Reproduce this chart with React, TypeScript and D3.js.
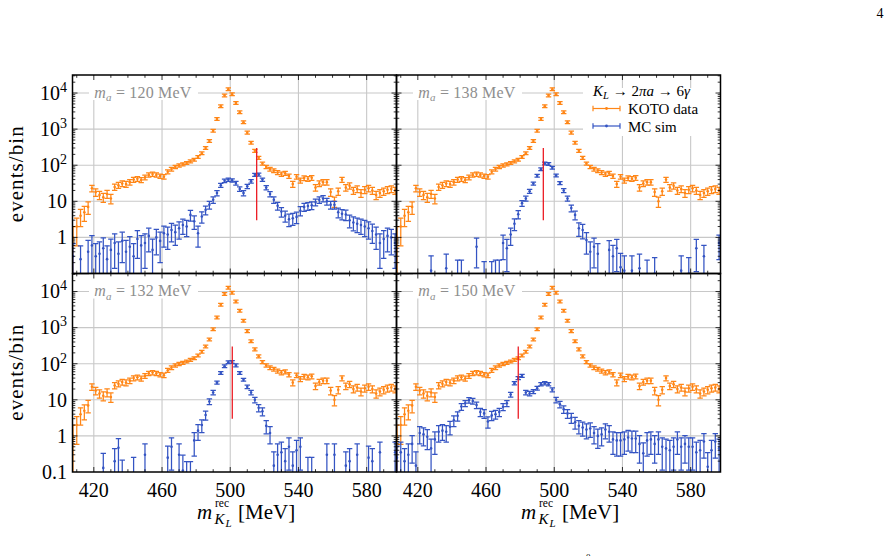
import * as d3 from "d3";

const FONT = "'Liberation Serif', 'DejaVu Serif', 'Times New Roman', serif";

const ORANGE = "#ff8617";
const BLUE = "#3454c3";
const RED = "#ec1c24";
const GRID = "#c8c8c8";
const NOTE = "#8e8e8e";

// 90 bins of 200/90 MeV on 400–600 MeV; bins 3..88 sit inside the plotted window
const BIN_W = 200 / 90;
const FIRST_BIN = 3;
const binCenter = (j: number) => 400 + (FIRST_BIN + j + 0.5) * BIN_W;

// KOTO data, events per bin (same sample in every panel)
const kotoData = [
  1, 2, 4, 5, 7, 23, 18, 15, 13, 16,
  12, 25, 28, 31, 30, 34, 40, 42, 39, 46,
  54, 57, 54, 50, 48, 66, 78, 90, 99, 106,
  116, 128, 142, 168, 214, 300, 470, 900, 1900, 4300,
  8600, 12800, 9300, 5300, 2950, 1550, 800, 420, 250, 160,
  112, 90, 78, 71, 63, 57, 60, 50, 30, 48,
  38, 44, 42, 45, 24, 31, 34, 34, 18, 10,
  19, 40, 24, 27, 20, 22, 17, 21, 23, 20,
  15, 17, 19, 21, 22, 20,
];

// MC signal samples, one per axion mass (null = empty bin)
const mc120 = [
  0.3, null, 0.25, null, 0.4, 0.6, 0.3, 0.35, 0.5, 0.25,
  0.45, 0.7, 0.35, 0.8, 0.4, 0.55, 0.3, 0.9, 0.6, 0.7,
  1.1, 0.45, 1.0, 0.8, 1.3, 1.2, 1.6, 1.4, 1.8, 2.2,
  2.0, 4.2, 2.8, 1.3, 3.8, 5.8, 8, 11, 17, 28,
  37, 40, 38, 32, 22, 17, 26, 36, 54, 55,
  40, 24, 16, 11, 7.5, 5.2, 4, 3.2, 3.4, 3.7,
  5.5, 7, 7.4, 7.8, 9.5, 11, 12, 10, 8, 8,
  5, 4.5, 4.3, 3, 2.6, 2.4, 2.2, 2.0, 1.8, 1.5,
  1.2, 0.7, 0.9, 1.1, 1.0, 0.7,
];

const mc138 = [
  null, null, null, null, null, null, null, null, null, 0.12,
  null, null, null, 0.14, null, null, 0.08, 0.08, null, null,
  null, 0.55, null, 0.07, null, 0.07, 0.08, 0.08, 0.7, 0.5,
  1.2, 2.4, 4.4, 8.9, 12, 19, 31, 51, 77, 112,
  108, 85, 52, 32, 20, 12, 6.5, 4.2, 1.8, 1.6,
  0.85, 0.4, 0.55, 0.35, null, null, 0.45, 0.3, 0.5, 0.15,
  0.12, null, 0.12, null, 0.14, null, 0.08, null, 0.1, null,
  null, null, null, null, null, 0.12, null, 0.1, null, 0.5,
  null, 0.3, null, null, null, 0.7,
];

const mc132 = [
  null, null, null, null, null, null, null, null, 0.13, null,
  null, 0.2, 0.47, 0.07, null, null, 0.09, null, null, 0.3,
  null, null, null, null, null, 0.25, 0.5, null, 0.3, 0.11,
  0.06, 0.06, 0.75, 1.4, 2.0, 3.8, 9, 16, 30, 55,
  85, 110, 112, 90, 55, 36, 23, 16, 10, 6,
  4.8, 1.9, 1.2, 0.15, 0.3, 0.35, 0.2, 0.5, 0.15, 0.4,
  0.5, null, 0.09, 0.09, null, null, null, 0.3, null, 0.3,
  null, null, 0.15, 0.2, null, 0.3, null, null, 0.25, 0.2,
  null, 0.35, null, null, null, 0.35,
];

const mc150 = [
  0.25, 0.35, 0.2, 0.3, 0.6, 0.15, 1.2, 1.1, 0.95, 0.45,
  0.8, 1.3, 1.4, 1.3, 1.8, 2.7, 3.6, 6.5, 8, 9.8,
  9.3, 7.2, 4.6, 4.2, 2.5, 3.7, 4, 4.6, 6.4, 8,
  14, 29, 40, 46, 16, 15, 17, 21, 27, 29,
  27, 19, 10, 7.5, 5.5, 4.2, 3.2, 2.4, 1.9, 1.7,
  1.5, 1.6, 1.2, 1.0, 1.1, 1.5, 1.3, 0.8, 0.75, 0.75,
  0.8, 0.9, 0.85, 0.85, 0.6, 0.33, 0.75, 0.8, 0.6, 0.8,
  0.5, 0.45, 0.4, 0.5, 0.8, 0.5, 0.6, 0.5, 0.5, 0.35,
  0.4, 0.7, 0.14, 0.4, 0.7, 0.45,
];

const axionMasses = ["120", "138", "132", "150"];
const mcSamples = [mc120, mc138, mc132, mc150];
// reconstructed K_L mass expected for each hypothesis (red marker)
const markerMass = [515.5, 493.6, 501.2, 478.9];
// per-event MC weight, sets the size of the MC error bars
const mcWeight = [0.45, 0.3, 0.3, 0.3];
const markerRange: [number, number] = [3, 300];

const xTickValues = [420, 460, 500, 540, 580];
const yTickLabels = [
  { v: 0.1, base: "0.1", exp: "" },
  { v: 1, base: "1", exp: "" },
  { v: 10, base: "10", exp: "" },
  { v: 100, base: "10", exp: "2" },
  { v: 1000, base: "10", exp: "3" },
  { v: 10000, base: "10", exp: "4" },
];

const X_DOMAIN: [number, number] = [407.5, 597.5];
const Y_DOMAIN: [number, number] = [0.1, 10 ** 4.5];
const PANEL_W = 324;
const PANEL_H = 198.5;
const ORIGIN_X = 72.5;
const ORIGIN_Y = 75;

type Scale = (v: number) => number;

function ErrorBars({ values, weight, color, x, y, bottom }: {
  values: (number | null)[]; weight: number; color: string;
  x: Scale; y: Scale; bottom: number;
}) {
  const cap = 2.7;
  return (
    <g stroke={color} fill={color} strokeWidth={1.25}>
      {values.map((v, j) => {
        if (v == null) return null;
        const e = Math.sqrt(v * weight);
        const cx = x(binCenter(j));
        const cy = y(v);
        const yHi = Math.min(y(v + e), cy - 1.4);
        const lo = v - e;
        const hasLo = lo > 0;
        const yLo = hasLo ? Math.max(y(lo), cy + 1.4) : bottom + 5;
        return (
          <g key={j}>
            <line x1={cx} x2={cx} y1={yHi} y2={yLo} />
            <line x1={cx - cap} x2={cx + cap} y1={yHi} y2={yHi} />
            {hasLo && <line x1={cx - cap} x2={cx + cap} y1={yLo} y2={yLo} />}
            <circle cx={cx} cy={cy} r={1.3} stroke="none" />
          </g>
        );
      })}
    </g>
  );
}

function Panel({ i }: { i: number }) {
  const col = i % 2;
  const row = Math.floor(i / 2);
  const left = ORIGIN_X + col * PANEL_W;
  const top = ORIGIN_Y + row * PANEL_H;
  const right = left + PANEL_W;
  const bottom = top + PANEL_H;
  const x = d3.scaleLinear().domain(X_DOMAIN).range([left, right]);
  const y = d3.scaleLog().domain(Y_DOMAIN).range([bottom, top]);
  const clipId = `panel-clip-${i}`;

  const decades = [1, 10, 100, 1000, 10000];
  const yMinor: number[] = [];
  for (let d = -1; d <= 4; d++) {
    for (let m = 2; m <= 9; m++) {
      const v = m * 10 ** d;
      if (v < Y_DOMAIN[1]) yMinor.push(v);
    }
  }
  const xSmall = d3.range(410, 597, 10).filter((v) => !xTickValues.includes(v));

  const noteX = left + 21.8;
  const mX = left + 124.5;

  return (
    <g>
      <defs>
        <clipPath id={clipId}>
          <rect x={left} y={top} width={PANEL_W} height={PANEL_H} />
        </clipPath>
      </defs>

      {/* grid */}
      <g stroke={GRID} strokeWidth={1.1}>
        {xTickValues.map((v) => (
          <line key={v} x1={x(v)} x2={x(v)} y1={top} y2={bottom} />
        ))}
        {decades.map((v) => (
          <line key={v} x1={left} x2={right} y1={y(v)} y2={y(v)} />
        ))}
      </g>

      {/* axion mass note */}
      <rect x={left + 16.5} y={top + 1} width={109} height={24} fill="white" />
      <text
        x={noteX} y={top + 22.5} fontSize={16} fill={NOTE} fontFamily={FONT}
        textLength={97} lengthAdjust="spacing"
      >
        <tspan fontStyle="italic">m</tspan>
        <tspan dy={3.5} fontSize={11} fontStyle="italic">a</tspan>
        <tspan dy={-3.5}>{` = ${axionMasses[i]} MeV`}</tspan>
      </text>

      {i === 1 && (
        <g fontFamily={FONT}>
          <rect x={583} y={88} width={135} height={48} fill="white" />
          <text x={593} y={96} fontSize={15} textLength={97} lengthAdjust="spacing">
            <tspan fontStyle="italic">K</tspan>
            <tspan dy={3} fontSize={10.5} fontStyle="italic">L</tspan>
            <tspan dy={-3}>{" \u2192 2"}</tspan>
            <tspan fontStyle="italic">{"\u03c0a"}</tspan>
            <tspan>{" \u2192 6"}</tspan>
            <tspan fontStyle="italic">{"\u03b3"}</tspan>
          </text>
          {[
            { c: ORANGE, label: "KOTO data", yy: 108.5 },
            { c: BLUE, label: "MC sim", yy: 126 },
          ].map((e) => (
            <g key={e.label}>
              <g stroke={e.c} strokeWidth={1.2}>
                <line x1={593} x2={620} y1={e.yy} y2={e.yy} />
                <line x1={593} x2={593} y1={e.yy - 2.8} y2={e.yy + 2.8} />
                <line x1={620} x2={620} y1={e.yy - 2.8} y2={e.yy + 2.8} />
              </g>
              <circle cx={606.5} cy={e.yy} r={1.4} fill={e.c} />
              <text x={628} y={e.yy + 5.5} fontSize={15}>{e.label}</text>
            </g>
          ))}
        </g>
      )}

      <g clipPath={`url(#${clipId})`}>
        <ErrorBars values={kotoData} weight={1} color={ORANGE} x={x} y={y} bottom={bottom} />
        <ErrorBars values={mcSamples[i]} weight={mcWeight[i]} color={BLUE} x={x} y={y} bottom={bottom} />
        <line
          x1={x(markerMass[i])} x2={x(markerMass[i])}
          y1={y(markerRange[0])} y2={y(markerRange[1])}
          stroke={RED} strokeWidth={1.3}
        />
      </g>

      {/* ticks, inside on all four sides */}
      <g stroke="black" strokeWidth={0.8}>
        {decades.map((v) => (
          <g key={v}>
            <line x1={left} x2={left + 5} y1={y(v)} y2={y(v)} />
            <line x1={right} x2={right - 5} y1={y(v)} y2={y(v)} />
          </g>
        ))}
        {yMinor.map((v) => (
          <g key={v}>
            <line x1={left} x2={left + 2.8} y1={y(v)} y2={y(v)} />
            <line x1={right} x2={right - 2.8} y1={y(v)} y2={y(v)} />
          </g>
        ))}
        {xTickValues.map((v) => (
          <g key={v}>
            <line x1={x(v)} x2={x(v)} y1={bottom} y2={bottom - 5} />
            <line x1={x(v)} x2={x(v)} y1={top} y2={top + 5} />
          </g>
        ))}
        {xSmall.map((v) => (
          <g key={v}>
            <line x1={x(v)} x2={x(v)} y1={bottom} y2={bottom - 2.8} />
            <line x1={x(v)} x2={x(v)} y1={top} y2={top + 2.8} />
          </g>
        ))}
      </g>
      <rect x={left} y={top} width={PANEL_W} height={PANEL_H} fill="none" stroke="black" strokeWidth={1.5} />

      {/* y axis labels */}
      {col === 0 && (
        <g fontFamily={FONT}>
          {yTickLabels
            .filter((t) => row === 1 || t.v > 0.1)
            .map((t) => (
              <text key={t.v} x={left - 5.5} y={y(t.v) + 6.8} fontSize={20} textAnchor="end">
                {t.base}
                {t.exp && <tspan dy={-8} fontSize={14}>{t.exp}</tspan>}
              </text>
            ))}
          <text
            transform={`translate(23,${(top + bottom) / 2}) rotate(-90)`}
            fontSize={21} textAnchor="middle" textLength={96} lengthAdjust="spacing"
          >
            events/bin
          </text>
        </g>
      )}

      {/* x axis labels */}
      {row === 1 && (
        <g fontFamily={FONT}>
          {xTickValues.map((v) => (
            <text key={v} x={x(v)} y={497} fontSize={20} textAnchor="middle">{v}</text>
          ))}
          <text x={mX} y={519} fontSize={21} fontStyle="italic">m</text>
          <text x={mX + 18} y={507} fontSize={11.5}>rec</text>
          <text x={mX + 17.5} y={524} fontSize={15} fontStyle="italic">K</text>
          <text x={mX + 28.5} y={527} fontSize={11} fontStyle="italic">L</text>
          <text x={mX + 41} y={519} fontSize={21}>[MeV]</text>
        </g>
      )}
    </g>
  );
}

export default function App() {
  return (
    <svg
      width={892}
      height={556}
      viewBox="0 0 892 556"
      style={{ position: "absolute", left: 0, top: 0, background: "white" }}
    >
      <rect width={892} height={556} fill="white" />
      <text x={880} y={18} fontSize={14} fontFamily={FONT} textAnchor="middle">4</text>
      {[0, 1, 2, 3].map((i) => (
        <Panel key={i} i={i} />
      ))}
      <text x={586} y={559.5} fontSize={9} fontFamily={FONT}>0</text>
    </svg>
  );
}
